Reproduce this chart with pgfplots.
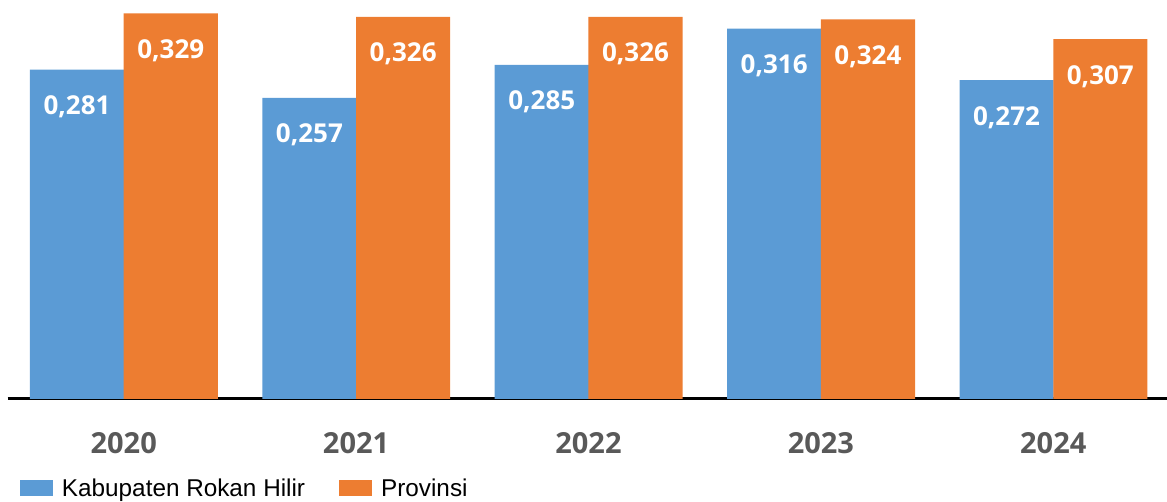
\documentclass[border=0pt]{standalone}
\usepackage{pgfplots}
\pgfplotsset{compat=1.18}
\usepackage{fontspec}
\setmainfont{Liberation Sans}
\newfontfamily\opensans{Open Sans}
\definecolor{cblue}{HTML}{5B9BD5}
\definecolor{corange}{HTML}{ED7D31}
\definecolor{ctick}{HTML}{595959}
\begin{document}
\begin{tikzpicture}
\path[use as bounding box] (0,0) rectangle (1167pt,502pt);
\begin{axis}[
  at={(7.5pt,103.2pt)}, anchor=south west,
  scale only axis, width=1162pt, height=398.8pt,
  xmin=-0.5, xmax=4.5, ymin=0, ymax=0.3405,
  axis x line*=bottom, axis y line=none,
  x axis line style={line width=2.8pt, black},
  xtick={0,1,2,3,4}, xticklabels={2020,2021,2022,2023,2024},
  major tick length=0pt, ytick=\empty,
  xticklabel style={font=\fontsize{29}{29}\selectfont\opensans\bfseries, text=ctick, anchor=base, inner sep=0pt, yshift=-54.5pt},
  ybar=0pt, bar width=0.405,
  nodes near coords, point meta=explicit symbolic,
  every node near coord/.append style={font=\fontsize{26}{26}\selectfont\opensans\bfseries, text=white, anchor=base, inner sep=0pt, yshift=-45pt},
  clip=false,
  legend style={at={(0,0)}, anchor=west, xshift=12.5pt, yshift=-89.5pt, draw=none, fill=none, inner sep=0pt, outer sep=0pt, legend columns=2, font=\fontsize{24.3}{24.3}\selectfont, text=black, nodes={inner sep=0pt},
    /tikz/every odd column/.append style={column sep=9pt},
    /tikz/every even column/.append style={column sep=34pt}},
  legend image code/.code={\fill[#1] (0pt,-8pt) rectangle (33pt,8pt);},
]
\addplot[fill=cblue, draw=none, bar shift=-0.2010] coordinates {
  (0,0.281) [0,281]
  (1,0.257) [0,257]
  (2,0.285) [0,285]
  (3,0.316) [0,316]
  (4,0.272) [0,272]
};
\addplot[fill=corange, draw=none, bar shift=0.2025] coordinates {
  (0,0.329) [0,329]
  (1,0.326) [0,326]
  (2,0.326) [0,326]
  (3,0.324) [0,324]
  (4,0.307) [0,307]
};
\legend{Kabupaten Rokan Hilir, Provinsi}
\end{axis}
\end{tikzpicture}
\end{document}
